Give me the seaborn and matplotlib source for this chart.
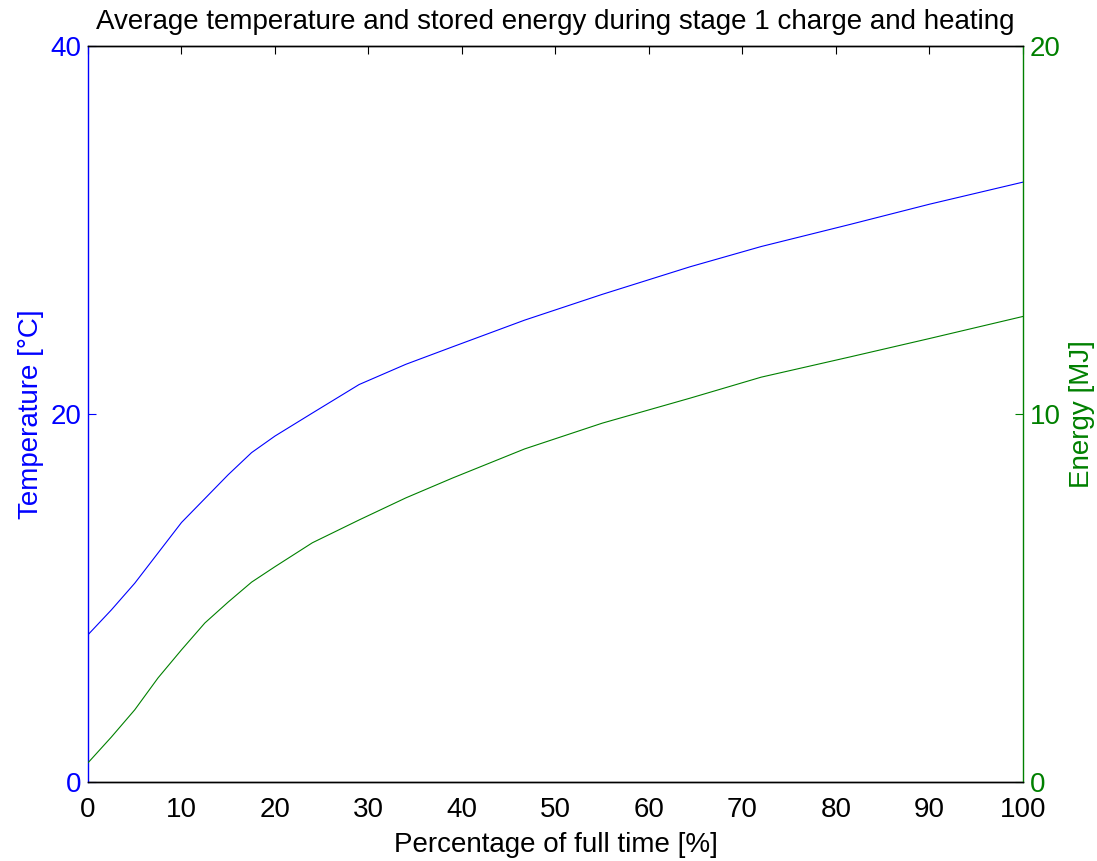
import matplotlib
matplotlib.use("Agg")
import matplotlib.pyplot as plt
import seaborn as sns
import pandas as pd

# values
time_pct = [0, 2.5, 5, 7.5, 10, 12.5, 15, 17.5, 20, 24, 29, 34, 39, 46.7, 55, 64.4, 72, 81.5, 90, 100]
temperature = [8.0, 9.35, 10.8, 12.45, 14.1, 15.4, 16.7, 17.9, 18.8, 20.05, 21.6, 22.7, 23.65,
               25.1, 26.5, 28.0, 29.1, 30.3, 31.4, 32.6]
energy = [0.52, 1.22, 1.96, 2.83, 3.59, 4.32, 4.89, 5.43, 5.85, 6.5, 7.12, 7.72, 8.26,
          9.05, 9.75, 10.43, 11.0, 11.55, 12.05, 12.65]

x_ticks = list(range(0, 101, 10))
temp_ticks = [0, 20, 40]
energy_ticks = [0, 10, 20]

df = pd.DataFrame({"time": time_pct, "temp": temperature, "energy": energy})

sns.set_style("white")
plt.rcParams['font.family'] = ['Liberation Sans', 'DejaVu Sans']
plt.rcParams['text.color'] = 'black'
plt.rcParams['axes.labelcolor'] = 'black'

blue = "#0000ff"
green = "#008000"

fig = plt.figure(figsize=(10.97, 8.61), dpi=100)
ax1 = fig.add_axes([0.0802, 0.0918, 0.8523, 0.8548])
ax2 = ax1.twinx()

sns.lineplot(data=df, x="time", y="temp", color=blue, linewidth=0.8, ax=ax1)
sns.lineplot(data=df, x="time", y="energy", color=green, linewidth=0.8, ax=ax2)

ax1.set_xlim(0, 100)
ax1.set_ylim(0, 40)
ax2.set_ylim(0, 20)
ax1.set_xticks(x_ticks)
ax1.set_yticks(temp_ticks)
ax2.set_yticks(energy_ticks)

fs = 20
ax1.tick_params(axis="x", direction="in", length=6, top=True, labelsize=fs, colors="black", pad=11)
ax1.tick_params(axis="y", direction="in", length=6, labelsize=fs, colors=blue, pad=5)
ax2.tick_params(axis="y", direction="in", length=6, labelsize=fs, colors=green, pad=5)

for ax in (ax1, ax2):
    for s in ax.spines.values():
        s.set_linewidth(1.0)
    ax.grid(False)
ax1.spines["left"].set_color(blue)
ax1.spines["right"].set_visible(False)
ax1.spines["top"].set_color("black")
ax1.spines["bottom"].set_color("black")
ax2.spines["left"].set_visible(False)
ax2.spines["right"].set_color(green)
ax2.spines["top"].set_color("black")
ax2.spines["bottom"].set_color("black")

ax1.set_xlabel("Percentage of full time [%]", fontsize=fs, color="black", labelpad=6)
ax1.set_ylabel("Temperature [°C]", fontsize=fs, color=blue, labelpad=4)
ax2.set_ylabel("Energy [MJ]", fontsize=fs, color=green, rotation=90, labelpad=6)
ax1.set_title("Average temperature and stored energy during stage 1 charge and heating",
              fontsize=fs, color="black", pad=12)

fig.savefig("out.png", dpi=100, facecolor="white")
